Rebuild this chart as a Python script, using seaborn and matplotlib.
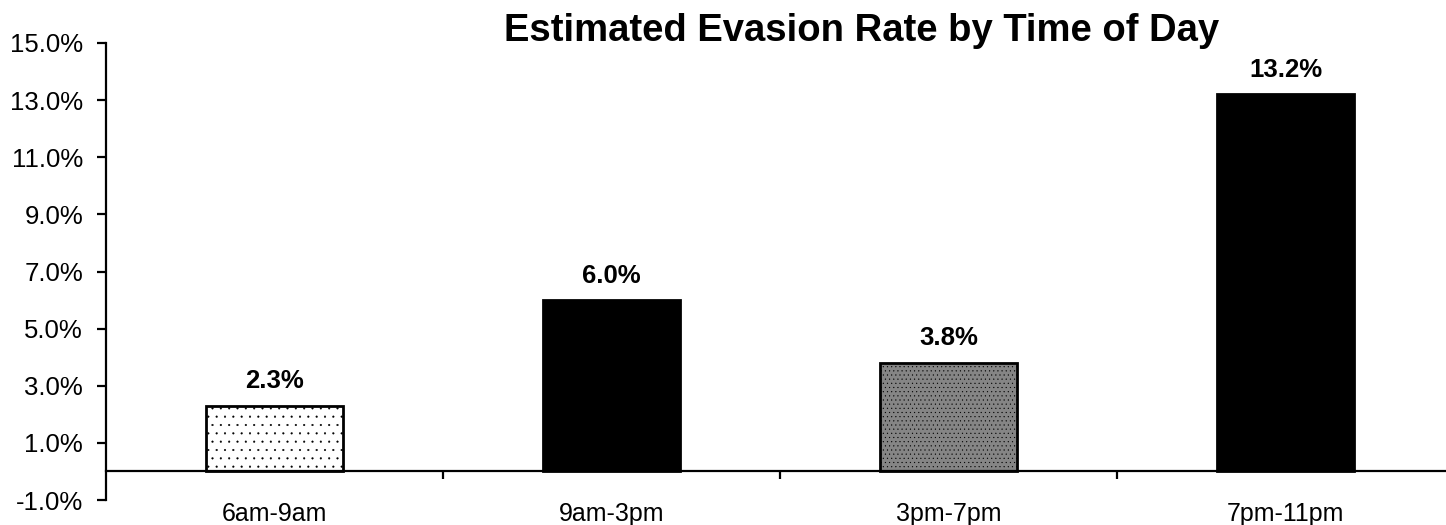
import numpy as np
import matplotlib
matplotlib.use("Agg")
import matplotlib.pyplot as plt
import seaborn as sns
from matplotlib.ticker import FixedLocator

# Data
periods = ["6am-9am", "9am-3pm", "3pm-7pm", "7pm-11pm"]
evasion_rate = [2.3, 6.0, 3.8, 13.2]          # percent
y_ticks = [-1.0, 1.0, 3.0, 5.0, 7.0, 9.0, 11.0, 13.0, 15.0]
title = "Estimated Evasion Rate by Time of Day"

# Bar styling
fills = ["white", "black", "#858585", "black"]
hatches = ["..", None, "....", None]

sns.set_theme(style="white")
plt.rcParams["font.family"] = ["Liberation Sans", "DejaVu Sans"]
plt.rcParams["hatch.linewidth"] = 0.3
plt.rcParams["text.color"] = "black"
plt.rcParams["xtick.color"] = "black"
plt.rcParams["ytick.color"] = "black"
plt.rcParams["axes.labelcolor"] = "black"

fig = plt.figure(figsize=(14.46, 5.25), dpi=100)
ax = fig.add_axes([0.0733, 0.0476, 0.9322, 0.8705])

sns.barplot(x=periods, y=evasion_rate, hue=periods, palette=fills,
            legend=False, width=0.404, edgecolor="black", linewidth=2,
            saturation=1, ax=ax)

for patch, h in zip(ax.patches, hatches):
    if h:
        patch.set_hatch(h)

# Value labels
for container in ax.containers:
    ax.bar_label(container, labels=[f"{v:.1f}%" for v in container.datavalues],
                 padding=9, fontsize=18.5, fontweight="bold", color="black")

# Axes
ax.set_xlim(-0.5, 3.5)
ax.set_ylim(-1, 15)
ax.set_yticks(y_ticks)
ax.set_yticklabels([f"{t:.1f}%" for t in y_ticks])
ax.set_xlabel("")
ax.set_ylabel("")

for s in ["top", "right"]:
    ax.spines[s].set_visible(False)
ax.spines["bottom"].set_position(("data", 0))
ax.spines["left"].set_linewidth(1.6)
ax.spines["bottom"].set_linewidth(1.6)
ax.spines["left"].set_color("black")
ax.spines["bottom"].set_color("black")

ax.tick_params(axis="y", which="major", direction="out", length=6.5, width=1.6,
               color="black", labelcolor="black", labelsize=18.5, pad=10, left=True)
ax.tick_params(axis="x", which="major", length=0, labelsize=18,
               labelcolor="black", pad=22)
ax.xaxis.set_minor_locator(FixedLocator([0.5, 1.5, 2.5]))
ax.tick_params(axis="x", which="minor", direction="out", length=6, width=1.6,
               color="black", bottom=True)
ax.grid(False)

fig.text(0.5955, 0.922, title, ha="center", va="baseline",
         fontsize=27.5, fontweight="bold", color="black")

fig.savefig("out.png", dpi=100, facecolor="white")
